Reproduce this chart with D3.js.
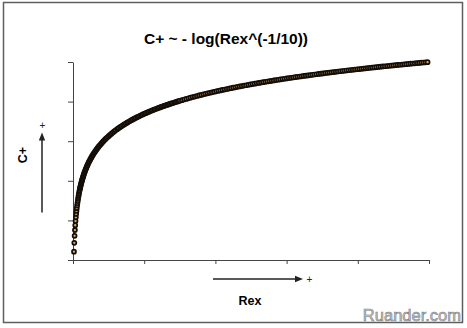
<!DOCTYPE html>
<html>
<head>
<meta charset="utf-8">
<script src="https://cdn.jsdelivr.net/npm/d3@7"></script>
<style>
  body { margin: 0; background: #fff; }
  svg { display: block; font-family: Arial, "Liberation Sans", sans-serif; }
</style>
</head>
<body>
<svg id="chart"></svg>
<script>
// values (axes carry no labels, units are arbitrary)
const rex = [1.38,1.82,2.26,2.7,3.14,3.58,4.02,4.46,4.9,5.34,5.78,6.22,6.66,7.1,7.54,7.98,8.42,8.86,9.3,9.74,
  10,10.35,10.71,11.09,11.48,11.88,12.29,12.72,13.17,13.63,14.11,14.6,15.11,15.64,16.19,16.75,17.34,17.95,18.57,19.23,
  19.9,20.59,21.32,22.06,22.83,23.63,24.46,25.32,26.2,27.12,28.07,29.05,30.07,31.12,32.21,33.34,34.5,35.71,36.96,38.25,
  39.59,40.98,42.41,43.9,45.43,47.02,48.67,50.37,52.14,53.96,55.85,57.8,59.83,
  62,64,66,68,70,72,74,76,78,80,82,84,86,88,90,92,94,96,98,100,102,104,106,108,110,112,114,116,118,120,
  122,124,126,128,130,132,134,136,138,140,142,144,146,148,150,
  153,156,159,162,165,168,171,174,177,180,183,186,189,192,195,198,201,204,207,210,
  213,216,219,222,225,228,231,234,237,240,243,246,249,252,255,258,261,264,267,270,
  273,276,279,282,285,288,291,294,297,300,303,306,309,312,315,318,321,324,327,330,
  333,336,339,342,345,348,351,354,357,360,363,366,369,372,375,378,381,384,387,390,
  393,396,399,402,405,408,411,414,417,420,423,426,429,432,435,438,441,444,447,450,
  453,456,459,462,465,468,471,474,477,480,483,486,489,492,495,498];

const cplus = [.0419,.0869,.1221,.1510,.1755,.1969,.2157,.2326,.2479,.2619,.2748,.2867,.2978,.3082,.3180,.3272,.3359,.3442,.3521,.3596,
  .3639,.3695,.3751,.3807,.3863,.3919,.3975,.4031,.4087,.4142,.4198,.4254,.4310,.4366,.4422,.4478,.4534,.4590,.4646,.4702,
  .4758,.4814,.4870,.4926,.4982,.5038,.5093,.5149,.5205,.5261,.5317,.5373,.5429,.5485,.5541,.5597,.5653,.5709,.5765,.5821,
  .5877,.5933,.5988,.6044,.6100,.6156,.6212,.6268,.6324,.6380,.6436,.6492,.6548,
  .6606,.6657,.6707,.6756,.6803,.6849,.6893,.6937,.6979,.7020,.7060,.7100,.7138,.7175,.7212,.7247,.7282,.7317,.7350,.7383,
  .7415,.7447,.7478,.7508,.7538,.7567,.7596,.7624,.7652,.7679,.7706,.7733,.7759,.7784,.7810,.7834,.7859,.7883,.7907,.7930,
  .7953,.7976,.7998,.8020,.8042,
  .8074,.8106,.8137,.8167,.8197,.8227,.8255,.8284,.8312,.8339,.8366,.8392,.8418,.8444,.8469,.8494,.8518,.8542,.8566,.8589,
  .8612,.8635,.8658,.8680,.8702,.8723,.8744,.8765,.8786,.8807,.8827,.8847,.8866,.8886,.8905,.8924,.8943,.8962,.8980,.8998,
  .9016,.9034,.9051,.9069,.9086,.9103,.9120,.9137,.9153,.9169,.9186,.9202,.9217,.9233,.9249,.9264,.9279,.9295,.9309,.9324,
  .9339,.9354,.9368,.9382,.9397,.9411,.9425,.9439,.9452,.9466,.9479,.9493,.9506,.9519,.9532,.9545,.9558,.9571,.9583,.9596,
  .9608,.9621,.9633,.9645,.9657,.9669,.9681,.9693,.9705,.9716,.9728,.9740,.9751,.9762,.9774,.9785,.9796,.9807,.9818,.9829,
  .9839,.9850,.9861,.9871,.9882,.9892,.9903,.9913,.9923,.9934,.9944,.9954,.9964,.9974,.9984,.9993];

const xTicks = [0, 100, 200, 300, 400, 500];
const yTicks = [0, 0.2, 0.4, 0.6, 0.8, 1];

const title = "C+ ~ - log(Rex^(-1/10))";
const xLabel = "Rex";
const yLabel = "C+";
const watermark = "Ruander.com";

const width = 467, height = 328;
const svg = d3.select('#chart')
    .attr('width', width)
    .attr('height', height);

//Frame
svg.append('rect')
    .attr('x', 3.5).attr('y', 2.5)
    .attr('width', 459).attr('height', 320)
    .attr('fill', '#fff')
    .attr('stroke', '#5f5f5f')
    .attr('stroke-width', 1.5);

const x = d3.scaleLinear().domain([0, 500]).range([73, 429]);
const y = d3.scaleLinear().domain([0, 1]).range([260, 62]);

//Axes, no tick labels
svg.append('g')
    .attr('transform', 'translate(0,260)')
    .call(d3.axisBottom(x).tickValues(xTicks).tickFormat('').tickSize(4).tickSizeOuter(0));
svg.append('g')
    .attr('transform', 'translate(73,0)')
    .call(d3.axisLeft(y).tickValues(yTicks).tickFormat('').tickSize(5).tickSizeOuter(0));
svg.selectAll('.domain, .tick line').attr('stroke', '#444');

//Points
const points = rex.map((r, i) => ({ rex: r, cplus: cplus[i] }));
svg.append('g')
    .selectAll('circle')
    .data(points)
    .join('circle')
    .attr('cx', d => x(d.rex))
    .attr('cy', d => y(d.cplus))
    .attr('r', 2.0)
    .attr('fill', '#e3a968')
    .attr('stroke', '#140e08')
    .attr('stroke-width', 1.7);

//Title and labels
svg.append('text')
    .attr('x', 226).attr('y', 44)
    .attr('text-anchor', 'middle')
    .attr('font-size', 15.5).attr('font-weight', 'bold')
    .text(title);

svg.append('text')
    .attr('x', 250).attr('y', 305)
    .attr('text-anchor', 'middle')
    .attr('font-size', 12.5).attr('font-weight', 'bold')
    .text(xLabel);

svg.append('text')
    .attr('transform', 'translate(27,155) rotate(-90)')
    .attr('text-anchor', 'middle')
    .attr('font-size', 12.5).attr('font-weight', 'bold')
    .text(yLabel);

//Direction arrows
const arrows = svg.append('g').attr('fill', '#222').attr('stroke', '#222');
arrows.append('line').attr('x1', 42).attr('y1', 212.5).attr('x2', 42).attr('y2', 139).attr('stroke-width', 1.5);
arrows.append('path').attr('d', 'M42,132.5 L38.8,140.5 L45.2,140.5 Z').attr('stroke', 'none');
arrows.append('line').attr('x1', 213).attr('y1', 279).attr('x2', 296).attr('y2', 279).attr('stroke-width', 1.5);
arrows.append('path').attr('d', 'M303,279 L295,275.8 L295,282.2 Z').attr('stroke', 'none');

svg.append('text').attr('x', 42.5).attr('y', 129).attr('text-anchor', 'middle')
    .attr('font-size', 10).attr('fill', '#222').text('+');
svg.append('text').attr('x', 309.5).attr('y', 282.5).attr('text-anchor', 'middle')
    .attr('font-size', 10).attr('fill', '#222').text('+');

//Watermark
svg.append('text')
    .attr('x', 461).attr('y', 321)
    .attr('text-anchor', 'end')
    .attr('font-size', 16.5)
    .attr('fill', '#c9c9c9')
    .attr('stroke', '#7d7d7d')
    .attr('stroke-width', 0.6)
    .text(watermark);
</script>
</body>
</html>
